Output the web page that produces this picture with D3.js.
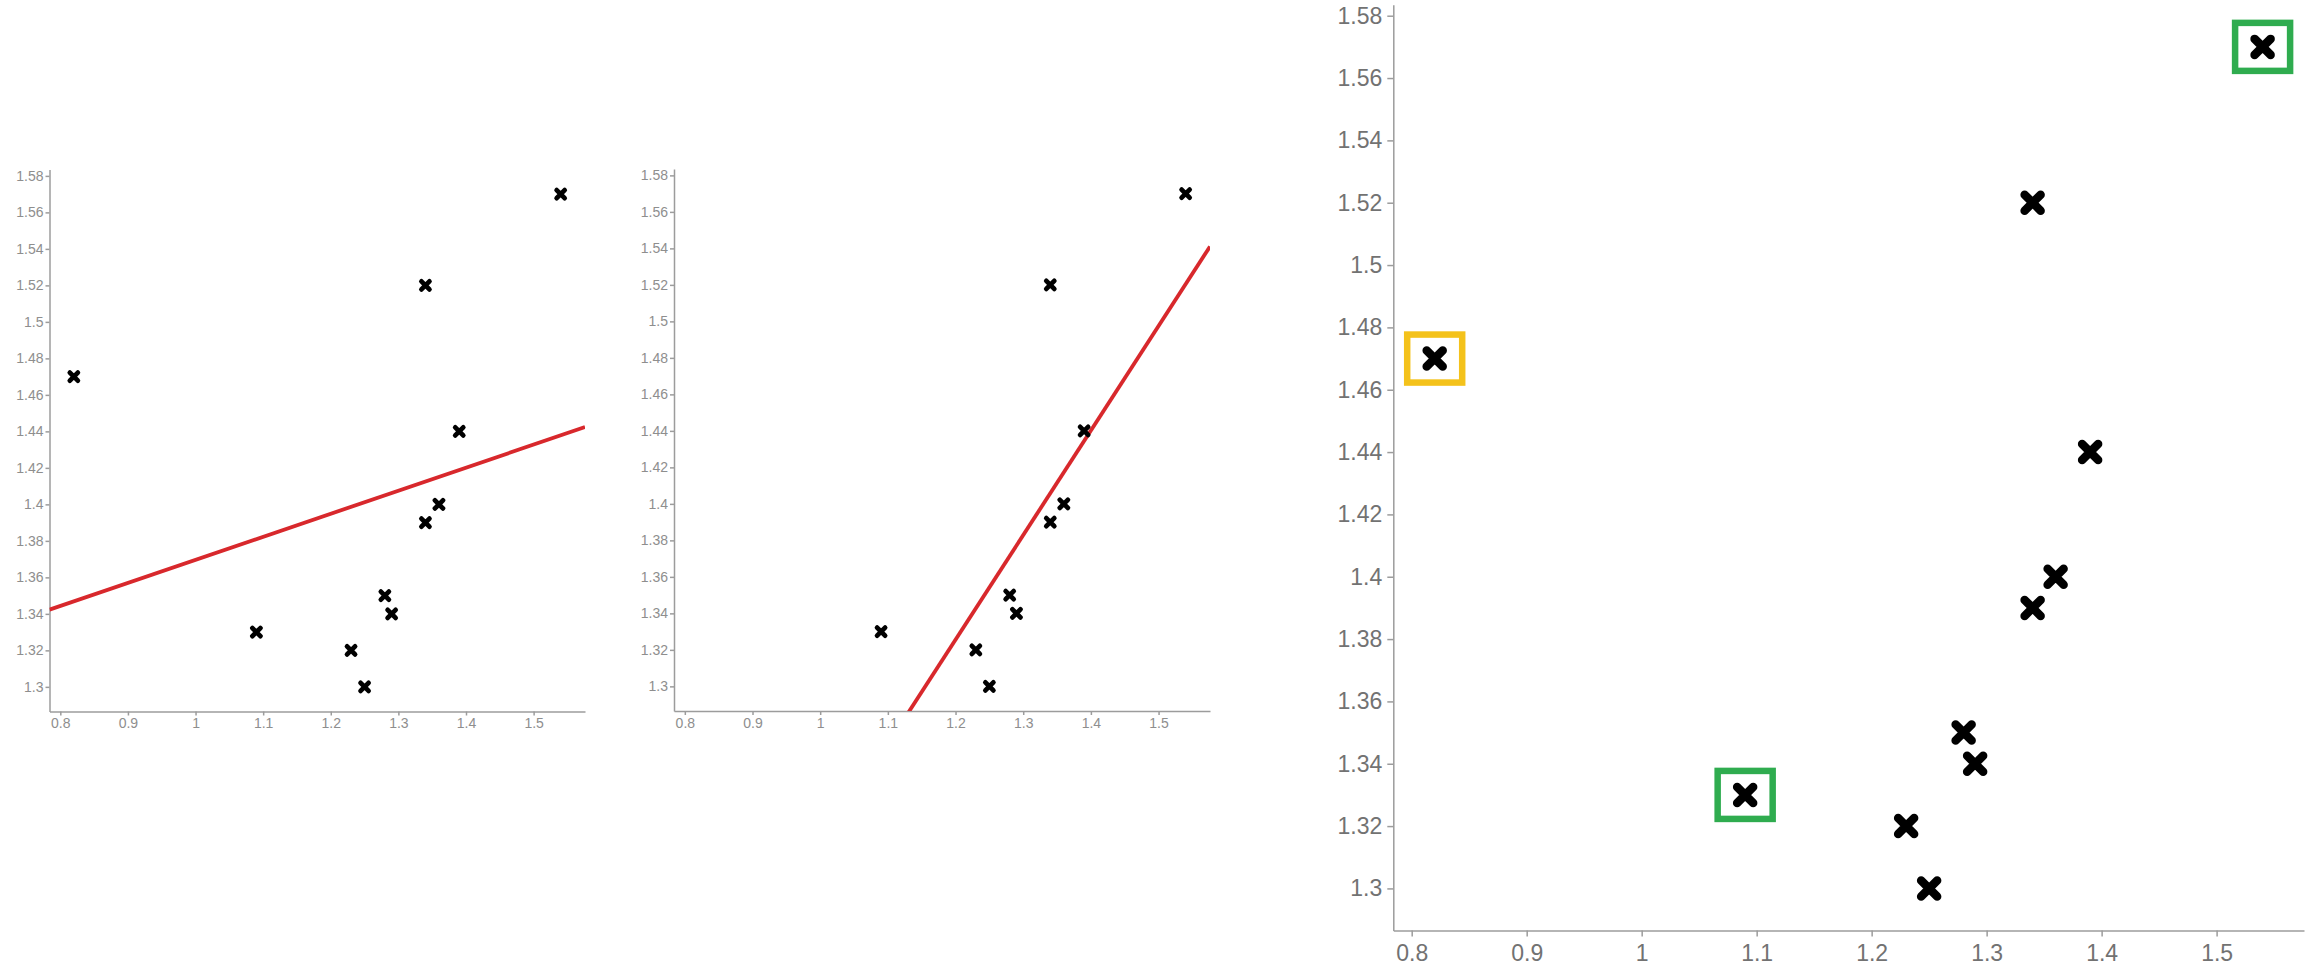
<!DOCTYPE html>
<html>
<head>
<meta charset="utf-8">
<script src="https://d3js.org/d3.v7.min.js"></script>
<style>
	body { margin: 0; background: #fff; }
	.axis path, .axis line { stroke: #9c9c9c; stroke-width: 1.5; }
	.axis text { font-family: "Liberation Sans", Arial, sans-serif; }
	.small .axis text { fill: #8e8e8e; font-size: 14px; }
	.big .axis text { fill: #727272; font-size: 23px; }
</style>
</head>
<body>
<svg id="chart" width="2312" height="967"></svg>
<script>

var xValues = [0.82, 1.09, 1.23, 1.25, 1.28, 1.29, 1.34, 1.36, 1.39, 1.34, 1.54];
var yValues = [1.47, 1.33, 1.32, 1.30, 1.35, 1.34, 1.39, 1.40, 1.44, 1.52, 1.57];

var xTicks = [0.8, 0.9, 1, 1.1, 1.2, 1.3, 1.4, 1.5];
var yTicks = [1.3, 1.32, 1.34, 1.36, 1.38, 1.4, 1.42, 1.44, 1.46, 1.48, 1.5, 1.52, 1.54, 1.56, 1.58];

// red fit lines of the two small panels
var fitIntercepts = [1.2433, 0.638];
var fitSlopes = [0.1263, 0.573];

// the point left out of the second panel
var droppedPoint = 0;

// boxed points in the big panel
var boxedPoints = [0, 1, 10];
var boxedKinds = ['outlier', 'leverage', 'leverage'];

var BOX_COLORS = { outlier : '#f4c21b', leverage : '#2fac4f' };

var PANELS = [
	{ left : 49.5, right : 585, top : 169.5, bottom : 711.5, big : false, fit : 0, skip : -1 },
	{ left : 674, right : 1210, top : 169, bottom : 711, big : false, fit : 1, skip : droppedPoint },
	{ left : 1393.3, right : 2304, top : 4.8, bottom : 930.5, big : true, fit : -1, skip : -1 }
];

var points = xValues.map(function ( x, i ) {
	return { i : i, x : x, y : yValues[i] };
});

// both axes run 5% past the data
var xExt = d3.extent(xValues), yExt = d3.extent(yValues);
var xPad = (xExt[1] - xExt[0]) * 0.05, yPad = (yExt[1] - yExt[0]) * 0.05;
var xDomain = [xExt[0] - xPad, xExt[1] + xPad];
var yDomain = [yExt[0] - yPad, yExt[1] + yPad];

var svg = d3.select('#chart');
var fmt = d3.format('~g');

// a plain X for d3.symbol, stroked
var symbolCrossX = {
	draw : function ( context, size ) {
		var r = Math.sqrt(size) / 2;
		context.moveTo(-r, -r);
		context.lineTo(r, r);
		context.moveTo(-r, r);
		context.lineTo(r, -r);
	}
};

PANELS.forEach(function ( p, k ) {
	var g = svg.append('g').attr('class', p.big ? 'big' : 'small');

	var xScale = d3.scaleLinear().domain(xDomain).range([p.left, p.right]);
	var yScale = d3.scaleLinear().domain(yDomain).range([p.bottom, p.top]);

	var tick = p.big ? 6 : 4;

	g.append('g')
		.attr('class', 'axis')
		.attr('transform', 'translate(0,' + p.bottom + ')')
		.call(d3.axisBottom(xScale).tickValues(xTicks).tickFormat(fmt)
			.tickSize(tick).tickSizeOuter(0).tickPadding(p.big ? 8 : 3));

	g.append('g')
		.attr('class', 'axis')
		.attr('transform', 'translate(' + p.left + ',0)')
		.call(d3.axisLeft(yScale).tickValues(yTicks).tickFormat(fmt)
			.tickSize(tick).tickSizeOuter(0).tickPadding(p.big ? 5 : 2));

	g.selectAll('.axis').attr('font-size', null).attr('font-family', null);

	if ( p.fit >= 0 ) {
		var clipId = 'clip' + k;
		g.append('clipPath').attr('id', clipId)
			.append('rect')
			.attr('x', p.left).attr('y', p.top)
			.attr('width', p.right - p.left).attr('height', p.bottom - p.top);

		var a = fitIntercepts[p.fit], b = fitSlopes[p.fit];
		var line = d3.line()
			.x(function ( d ) { return xScale(d); })
			.y(function ( d ) { return yScale(a + b * d); });

		g.append('path')
			.attr('clip-path', 'url(#' + clipId + ')')
			.attr('d', line(xDomain))
			.attr('fill', 'none')
			.attr('stroke', '#d8282c')
			.attr('stroke-width', 3.8);
	}

	if ( p.big ) {
		g.selectAll('rect.box')
			.data(boxedPoints)
			.enter()
			.append('rect')
			.attr('class', 'box')
			.attr('x', function ( d ) { return xScale(xValues[d]) - 27.5; })
			.attr('y', function ( d ) { return yScale(yValues[d]) - 24; })
			.attr('width', 55)
			.attr('height', 48)
			.attr('fill', 'none')
			.attr('stroke-width', 6.5)
			.attr('stroke', function ( d, j ) { return BOX_COLORS[boxedKinds[j]]; });
	}

	var sym = d3.symbol().type(symbolCrossX).size(p.big ? 256 : 64);

	g.selectAll('path.pt')
		.data(points.filter(function ( d ) { return d.i !== p.skip; }))
		.enter()
		.append('path')
		.attr('class', 'pt')
		.attr('d', sym)
		.attr('transform', function ( d ) {
			return 'translate(' + xScale(d.x) + ',' + yScale(d.y) + ')';
		})
		.attr('fill', 'none')
		.attr('stroke', '#000')
		.attr('stroke-linecap', 'round')
		.attr('stroke-width', p.big ? 8.5 : 4.8);
});

</script>
</body>
</html>
